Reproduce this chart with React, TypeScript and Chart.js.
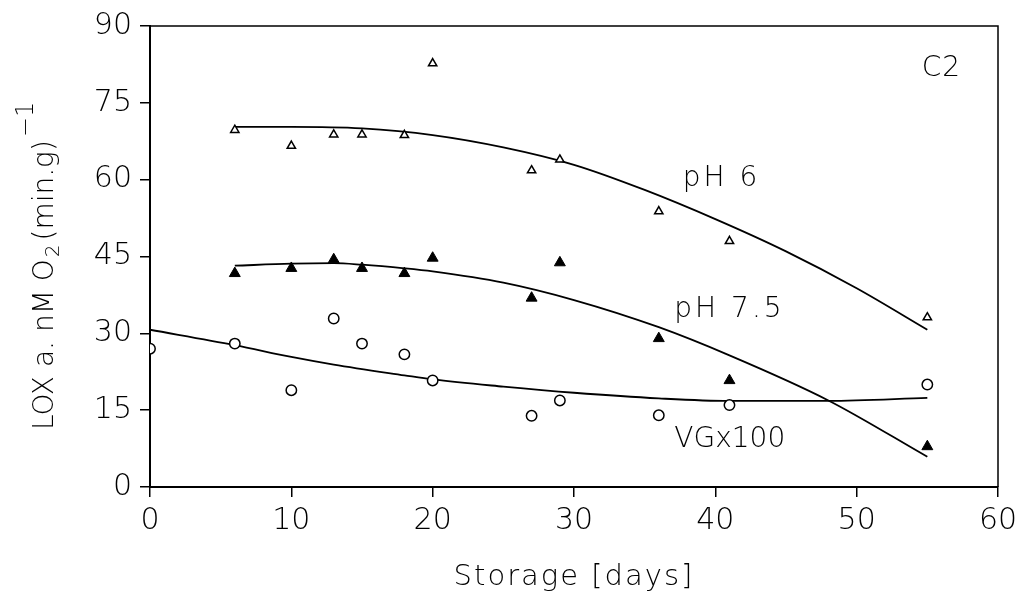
import React, { useEffect, useRef } from "react";
import { Chart, registerables } from "chart.js";

Chart.register(...registerables);

// ---- data ----
const phDays = [6, 10, 13, 15, 18, 20, 27, 29, 36, 41, 55];
const ph6Values = [69.7, 66.6, 68.8, 68.8, 68.7, 82.7, 61.8, 63.9, 53.8, 48.0, 33.1];
const ph75Values = [41.7, 42.7, 44.4, 42.7, 41.7, 44.7, 36.9, 43.8, 29.0, 20.8, 7.9];
const vgDays = [0, 6, 10, 13, 15, 18, 20, 27, 29, 36, 41, 55];
const vgValues = [27.0, 28.0, 18.9, 32.9, 28.0, 25.9, 20.8, 13.9, 16.9, 14.0, 16.0, 20.0];

// fitted curves
const fit6Days = [6, 10, 15, 20, 25, 30, 35, 40, 45, 50, 55];
const fit6Values = [70.3, 70.3, 70.0, 68.7, 66.3, 62.9, 58.0, 52.3, 46.0, 38.8, 30.7];
const fit75Days = [6, 10, 13, 15, 18, 20, 25, 30, 36, 41, 48, 55];
const fit75Values = [43.2, 43.6, 43.7, 43.4, 42.7, 42.1, 39.9, 36.5, 31.2, 25.7, 16.9, 5.9];
const fitVgDays = [0, 6, 10, 13, 18, 20, 25, 30, 36, 41, 48, 55];
const fitVgValues = [30.7, 27.7, 25.4, 23.9, 21.8, 21.0, 19.6, 18.4, 17.3, 16.8, 16.8, 17.4];

const xTickValues = [0, 10, 20, 30, 40, 50, 60];
const yTickValues = [0, 15, 30, 45, 60, 75, 90];

const panelLabel = "C2";
const seriesLabels = ["pH 6", "pH 7.5", "VGx100"];
const xTitle = "Storage [days]";

const FAM = '"DejaVu Sans", "Liberation Sans", sans-serif';
const WEIGHT = "200";

const toPts = (xs: number[], ys: number[]) => xs.map((x, i) => ({ x, y: ys[i] }));

export default function App() {
  const ref = useRef<HTMLCanvasElement | null>(null);

  useEffect(() => {
    if (!ref.current) return;

    const annotations = [
      { text: panelLabel, x: 54.6, y: 80.3, spacing: "1px" },
      { text: seriesLabels[0], x: 37.7, y: 58.8, spacing: "3px" },
      { text: seriesLabels[1], x: 37.1, y: 33.1, spacing: "3px" },
      { text: seriesLabels[2], x: 37.1, y: 7.8, spacing: "0px" },
    ];

    const textPlugin = {
      id: "texts",
      afterDraw(chart: any) {
        const { ctx, chartArea } = chart;
        const xs = chart.scales.x;
        const ys = chart.scales.y;
        ctx.save();
        // frame top & right
        ctx.strokeStyle = "#000";
        ctx.lineWidth = 1.5;
        ctx.beginPath();
        ctx.moveTo(chartArea.left, chartArea.top);
        ctx.lineTo(chartArea.right, chartArea.top);
        ctx.lineTo(chartArea.right, chartArea.bottom);
        ctx.stroke();

        ctx.fillStyle = "#000";
        ctx.textAlign = "left";
        ctx.textBaseline = "alphabetic";
        ctx.font = `${WEIGHT} 28px ${FAM}`;
        for (const a of annotations) {
          (ctx as any).letterSpacing = a.spacing;
          ctx.fillText(a.text, xs.getPixelForValue(a.x), ys.getPixelForValue(a.y));
        }

        // x title
        ctx.font = `${WEIGHT} 29px ${FAM}`;
        (ctx as any).letterSpacing = "2px";
        ctx.textAlign = "center";
        ctx.textBaseline = "middle";
        ctx.fillText(xTitle, (chartArea.left + chartArea.right) / 2, 577);

        // y title with sub/superscript
        (ctx as any).letterSpacing = "0px";
        ctx.textAlign = "left";
        ctx.textBaseline = "alphabetic";
        ctx.translate(53, 430);
        ctx.rotate(-Math.PI / 2);
        ctx.font = `${WEIGHT} 28px ${FAM}`;
        const p1 = "LOX a. nM O";
        ctx.fillText(p1, 0, 0);
        let u = ctx.measureText(p1).width + 2;
        ctx.font = `${WEIGHT} 20px ${FAM}`;
        ctx.fillText("2", u, 6);
        u += ctx.measureText("2").width + 4;
        ctx.font = `${WEIGHT} 28px ${FAM}`;
        ctx.fillText("(min.g)", u, 0);
        u += ctx.measureText("(min.g)").width + 3;
        ctx.font = `${WEIGHT} 24px ${FAM}`;
        ctx.fillText("\u22121", u, -20);
        ctx.restore();
      },
    };

    const tickFont = { family: FAM, size: 30, weight: WEIGHT as any, lineHeight: 1.2 };

    const fitStyle = {
      showLine: true,
      pointRadius: 0,
      borderColor: "#000",
      borderWidth: 1.8,
      cubicInterpolationMode: "monotone",
    };

    const chart = new Chart(ref.current, {
      type: "scatter",
      data: {
        datasets: [
          {
            label: "pH 6",
            data: toPts(phDays, ph6Values),
            pointStyle: "triangle",
            pointRadius: 4.8,
            backgroundColor: "#fff",
            borderColor: "#000",
            borderWidth: 1.5,
          },
          {
            label: "pH 7.5",
            data: toPts(phDays, ph75Values),
            pointStyle: "triangle",
            pointRadius: 6.3,
            backgroundColor: "#000",
            borderColor: "#000",
            borderWidth: 1,
          },
          {
            label: "VGx100",
            data: toPts(vgDays, vgValues),
            pointStyle: "circle",
            pointRadius: 5.2,
            backgroundColor: "#fff",
            borderColor: "#000",
            borderWidth: 1.5,
          },
          { label: "fit pH 6", data: toPts(fit6Days, fit6Values), ...fitStyle } as any,
          { label: "fit pH 7.5", data: toPts(fit75Days, fit75Values), ...fitStyle } as any,
          { label: "fit VG", data: toPts(fitVgDays, fitVgValues), ...fitStyle } as any,
        ],
      },
      options: {
        animation: false,
        responsive: false,
        maintainAspectRatio: false,
        layout: { padding: { top: 25, right: 28, left: 0, bottom: 0 } },
        plugins: {
          legend: { display: false },
          tooltip: { enabled: false },
          title: { display: false },
        },
        scales: {
          x: {
            type: "linear",
            min: 0,
            max: 60,
            afterFit: (s: any) => {
              s.height = 109;
            },
            afterBuildTicks: (s: any) => {
              s.ticks = xTickValues.map((v) => ({ value: v }));
            },
            grid: {
              drawOnChartArea: false,
              drawTicks: true,
              tickLength: 10,
              color: "#000",
              lineWidth: 1.5,
            },
            border: { display: true, color: "#000", width: 2 },
            ticks: {
              color: "#000",
              font: tickFont,
              padding: 6,
              maxRotation: 0,
              autoSkip: false,
            },
          },
          y: {
            type: "linear",
            min: 0,
            max: 90,
            afterFit: (s: any) => {
              s.width = 150;
            },
            afterBuildTicks: (s: any) => {
              s.ticks = yTickValues.map((v) => ({ value: v }));
            },
            grid: {
              drawOnChartArea: false,
              drawTicks: true,
              tickLength: 10,
              color: "#000",
              lineWidth: 1.5,
            },
            border: { display: true, color: "#000", width: 2 },
            ticks: {
              color: "#000",
              font: tickFont,
              padding: 8,
              autoSkip: false,
            },
          },
        },
      },
      plugins: [textPlugin],
    });

    return () => chart.destroy();
  }, []);

  return (
    <div style={{ position: "fixed", left: 0, top: 0, width: 1026, height: 596, background: "#fff" }}>
      <canvas ref={ref} width={1026} height={596} style={{ width: 1026, height: 596, display: "block" }} />
    </div>
  );
}
